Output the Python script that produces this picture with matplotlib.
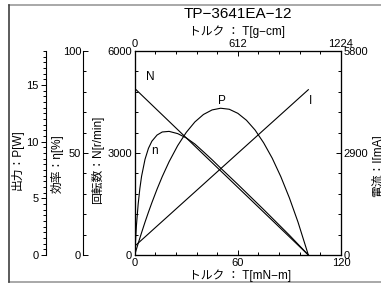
import matplotlib
matplotlib.use('Agg')
import matplotlib.pyplot as plt
from matplotlib.lines import Line2D
from matplotlib.ticker import MultipleLocator, FixedLocator

plt.rcParams['font.family'] = ['Liberation Sans', 'Noto Sans CJK JP']
plt.rcParams['axes.unicode_minus'] = True

W, H = 381, 283

# characteristic curves of TP-3641EA-12
torque = [0, 1, 2, 3, 4, 6, 8, 10, 13, 16, 20, 25, 30, 35, 40, 45, 50,
          55, 60, 65, 70, 75, 80, 85, 90, 95, 101]                       # mN-m
speed = [4900, 4852, 4803, 4755, 4706, 4609, 4512, 4415, 4269, 4124, 3930,
         3687, 3445, 3202, 2959, 2717, 2474, 2232, 1989, 1747, 1504, 1261,
         1019, 776, 534, 291, 0]                                          # r/min
current = [250, 294, 338, 382, 426, 514, 602, 691, 823, 955, 1131, 1352,
           1572, 1792, 2012, 2233, 2453, 2673, 2894, 3114, 3334, 3555, 3775,
           3995, 4215, 4436, 4700]                                        # mA
output = [0, 0.51, 1.01, 1.49, 1.97, 2.90, 3.78, 4.62, 5.81, 6.91, 8.23,
          9.65, 10.82, 11.74, 12.40, 12.80, 12.95, 12.86, 12.50, 11.89,
          11.03, 9.90, 8.54, 6.91, 5.03, 2.90, 0]                         # W
efficiency = [0, 14.4, 24.8, 32.6, 38.6, 46.9, 52.3, 55.8, 58.8, 60.3, 60.6,
              59.5, 57.4, 54.4, 50.6, 46.7, 42.6, 38.6, 34.6, 30.5, 26.4,
              22.3, 18.1, 13.9, 9.7, 5.3, 0]                              # %

title = 'TP\u22123641EA\u221212'
xlabel_bottom = 'トルク ： T[mN\u2212m]'
xlabel_top = 'トルク ： T[g\u2212cm]'
ylabel_speed = '回転数：N[r/min]'
ylabel_eff = '効率：η[%]'
ylabel_out = '出力：P[W]'
ylabel_cur = '電流：I[mA]'


def px(x, y):
    """Pixel position (from top-left) to figure fraction."""
    return x / W, 1 - y / H


def side_axis(fig, rect, offset, ylim, major, minor, direction):
    """Extra y axis drawn only as a left spine set off to the left."""
    a = fig.add_axes(rect)
    a.patch.set_visible(False)
    for s in ('top', 'right', 'bottom'):
        a.spines[s].set_visible(False)
    a.spines['left'].set_position(('axes', offset))
    a.spines['left'].set_linewidth(0.8)
    a.xaxis.set_visible(False)
    a.set_xlim(0, 120)
    a.set_ylim(*ylim)
    a.yaxis.set_major_locator(MultipleLocator(major))
    a.yaxis.set_minor_locator(MultipleLocator(minor))
    a.tick_params(axis='y', which='both', direction=direction, labelsize=8,
                  width=0.7, pad=1.5)
    a.tick_params(axis='y', which='major', length=3.5)
    a.tick_params(axis='y', which='minor', length=2)
    return a


def main():
    fig = plt.figure(figsize=(W / 100, H / 100), dpi=100)

    left, right, top, bottom = 134.7, 341.0, 51.0, 255.0
    rect = [left / W, 1 - bottom / H, (right - left) / W, (bottom - top) / H]

    ax = fig.add_axes(rect)
    ax.set_xlim(0, 120)
    ax.set_ylim(0, 6000)
    ax.xaxis.set_major_locator(FixedLocator([0, 60, 120]))
    ax.xaxis.set_minor_locator(MultipleLocator(12))
    ax.yaxis.set_major_locator(FixedLocator([0, 3000, 6000]))
    ax.yaxis.set_minor_locator(MultipleLocator(600))
    ax.tick_params(which='both', direction='in', labelsize=8, width=0.7, pad=2)
    ax.tick_params(which='major', length=3.5)
    ax.tick_params(which='minor', length=2)
    for s in ax.spines.values():
        s.set_linewidth(0.8)

    ax_i = ax.twinx()
    ax_i.set_ylim(0, 5800)
    ax_i.yaxis.set_major_locator(FixedLocator([0, 2900, 5800]))
    ax_i.yaxis.set_minor_locator(MultipleLocator(580))
    ax_i.tick_params(which='both', direction='in', labelsize=8, width=0.7, pad=2)
    ax_i.tick_params(which='major', length=3.5)
    ax_i.tick_params(which='minor', length=2)

    ax_t = ax.twiny()
    ax_t.set_xlim(0, 1224)
    ax_t.xaxis.set_major_locator(FixedLocator([0, 612, 1224]))
    ax_t.xaxis.set_minor_locator(MultipleLocator(122.4))
    ax_t.tick_params(which='both', direction='in', labelsize=8, width=0.7, pad=1.5)
    ax_t.tick_params(which='major', length=3.5)
    ax_t.tick_params(which='minor', length=2)

    ax_p = side_axis(fig, rect, (45.7 - left) / (right - left), (0, 18), 5, 0.5, 'out')
    ax_e = side_axis(fig, rect, (83.3 - left) / (right - left), (0, 100), 50, 10, 'in')

    lw = 0.8
    ax.plot(torque, speed, color='black', lw=lw)
    ax_i.plot(torque, current, color='black', lw=lw)
    ax_p.plot(torque, output, color='black', lw=lw)
    ax_e.plot(torque, efficiency, color='black', lw=lw)

    # curve names
    for name, (x, y) in [('N', (150, 77)), ('P', (222, 101)),
                         ('I', (311, 101)), ('n', (154, 151))]:
        fig.text(*px(x, y), name, fontsize=8.5, ha='center', va='center')

    fig.text(*px(238, 14), title, fontsize=11, ha='center', va='center')
    fig.text(*px(237, 32), xlabel_top, fontsize=8.5, ha='center', va='center')
    fig.text(*px(240, 276), xlabel_bottom, fontsize=8.5, ha='center', va='center')
    fig.text(*px(17, 160), ylabel_out, fontsize=8.5, rotation=90,
             ha='center', va='center')
    fig.text(*px(57, 164), ylabel_eff, fontsize=8.5, rotation=90,
             ha='center', va='center')
    fig.text(*px(98, 160), ylabel_speed, fontsize=8.5, rotation=90,
             ha='center', va='center')
    fig.text(*px(378, 166), ylabel_cur, fontsize=8.5, rotation=90,
             ha='center', va='center')

    # outer frame of the sheet
    x0, y0 = px(9, 4.5)
    x1, y1 = px(400, 281.5)
    fig.add_artist(Line2D([x0, x1], [y0, y0], color='#9a9a9a', lw=1.2))
    fig.add_artist(Line2D([x0, x1], [y1, y1], color='#9a9a9a', lw=1.2))
    fig.add_artist(Line2D([x0, x0], [y0, y1], color='#404040', lw=1.2))

    fig.savefig('out.png', dpi=100)


if __name__ == '__main__':
    main()
